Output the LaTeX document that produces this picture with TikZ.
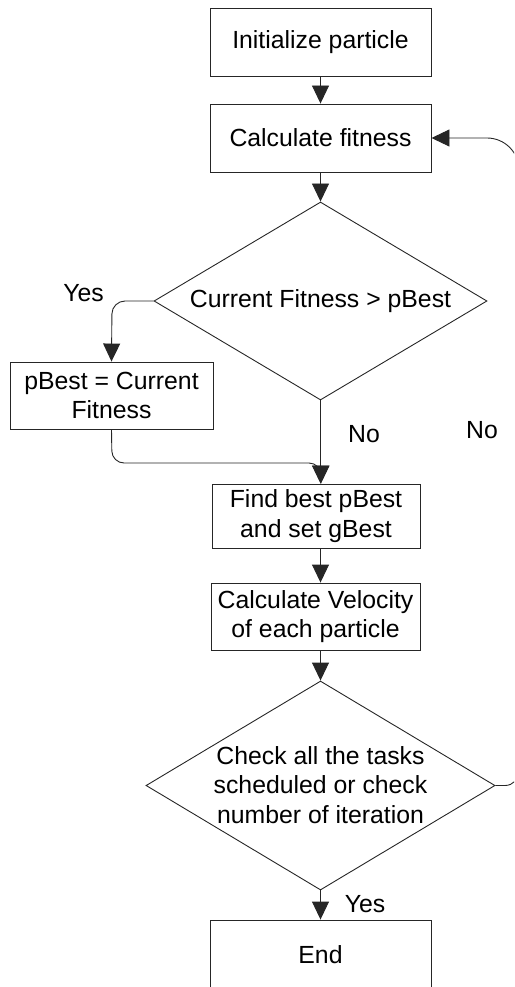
\documentclass[tikz,border=0pt]{standalone}
\usepackage{fontspec}
\setmainfont{Liberation Sans}
\usetikzlibrary{arrows.meta,shapes.geometric}
\begin{document}
\begin{tikzpicture}[x=1pt,y=1pt,
  every node/.style={font=\fontsize{24.8}{29.5}\selectfont},
  box/.style={draw=black!85, line width=0.9pt, rectangle, inner sep=0pt, align=center},
  dec/.style={draw=black!85, line width=0.9pt, diamond, shape aspect=1, inner sep=0pt, align=center},
  arr/.style={draw=black!85, line width=0.9pt, -{Triangle[width=17pt,length=18pt]}},
  lab/.style={inner sep=0pt}
]
\useasboundingbox (0,0) rectangle (514,-987);
\clip (0,0) rectangle (514,-987);
\node[box, minimum width=221pt, minimum height=68pt] (b1) at (320.5,-42) {Initialize particle};
\node[box, minimum width=221pt, minimum height=68pt] (b2) at (320.5,-138) {Calculate fitness};
\node[dec, minimum width=333pt, minimum height=198pt] (d1) at (320.5,-301) {};
\node (t1) at (320.5,-301) {Current Fitness > pBest};
\node[box, minimum width=203pt, minimum height=67pt] (b5) at (111.5,-395.5) {pBest = Current\\Fitness};
\node[box, minimum width=208pt, minimum height=64pt] (b3) at (316,-516) {Find best pBest\\and set gBest};
\node[box, minimum width=209pt, minimum height=67pt] (b4) at (315.5,-616.5) {Calculate Velocity\\of each particle};
\node[dec, minimum width=349pt, minimum height=209pt] (d2) at (320.5,-785.5) {};
\node[align=center] (t2) at (320.5,-785) {Check all the tasks\\scheduled or check\\number of iteration};
\node[box, minimum width=221pt, minimum height=70pt] (b6) at (320.5,-955) {End};

\node[lab] (yes1) at (83.5,-293.5) {Yes};
\node[lab] (no1) at (364,-434) {No};
\node[lab] (no2) at (482,-430) {No};
\node[lab] (yes2) at (365,-904) {Yes};

\coordinate (c1) at (112,-301);
\coordinate (c2) at (112,-463);
\coordinate (c3) at (321,-463);
\coordinate (lb) at (505,-785.5);
\coordinate (lt) at (519,-170);

\draw[arr] (b1) -- (b2);
\draw[arr] (b2) -- (d1.north);
\draw[arr, rounded corners=13pt] (d1.west) -- (c1) -- (b5.north);
\draw[arr] (d1.south) -- (d1.south |- b3.north);
\draw[arr, rounded corners=12pt] (b5.south) -- (c2) -- (c3) -- (c3 |- b3.north);
\draw[arr] (d1.south |- b3.south) -- (d1.south |- b4.north);
\draw[arr] (d1.south |- b4.south) -- (d2.north);
\draw[arr] (d2.south) -- (b6.north);
\draw[arr] (d2.east) -- (lb) arc[start angle=-90, end angle=0, radius=14pt] -- (lt) arc[start angle=0, end angle=90, radius=32pt] -- (b2.east);
\end{tikzpicture}
\end{document}
